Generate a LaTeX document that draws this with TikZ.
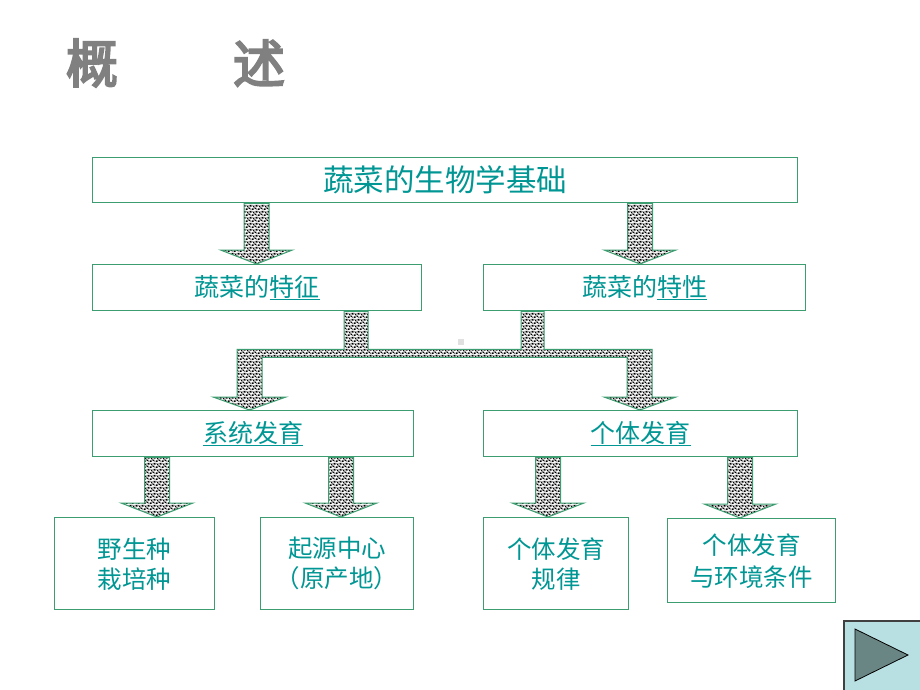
\documentclass[tikz,border=0pt]{standalone}
\usepackage{fontspec}
\newfontfamily\cjk{Noto Sans CJK SC}
\newfontfamily\titlefont[FakeBold=4]{Noto Sans CJK SC}
\usetikzlibrary{patterns,calc}
\definecolor{boxgreen}{RGB}{60,158,112}
\definecolor{tealtext}{RGB}{0,150,148}
\definecolor{titlegray}{RGB}{128,128,128}
\definecolor{btnfill}{RGB}{184,224,226}
\definecolor{btntri}{RGB}{106,134,132}
\newcommand\uln[1]{\setbox0\hbox{#1}\rlap{\rule[-3.8pt]{\wd0}{1.3pt}}\box0}
\pgfdeclarepatterninherentlycolored{confetti}{\pgfpointorigin}{\pgfqpoint{6pt}{6pt}}{\pgfqpoint{6pt}{6pt}}{%
  \pgfsetfillcolor{white}\pgfpathrectangle{\pgfpointorigin}{\pgfqpoint{6pt}{6pt}}\pgfusepath{fill}%
  \pgfsetfillcolor{black}%
  \pgfpathrectangle{\pgfqpoint{0.1pt}{0.1pt}}{\pgfqpoint{1.8pt}{1.8pt}}%
  \pgfpathrectangle{\pgfqpoint{3.1pt}{1.0pt}}{\pgfqpoint{1.8pt}{1.8pt}}%
  \pgfpathrectangle{\pgfqpoint{1.0pt}{3.2pt}}{\pgfqpoint{1.8pt}{1.8pt}}%
  \pgfpathrectangle{\pgfqpoint{4.1pt}{4.0pt}}{\pgfqpoint{1.8pt}{1.8pt}}%
  \pgfusepath{fill}%
  \pgfsetfillcolor{black!55}%
  \pgfpathrectangle{\pgfqpoint{1.9pt}{1.9pt}}{\pgfqpoint{1.3pt}{1.3pt}}%
  \pgfpathrectangle{\pgfqpoint{4.9pt}{0.1pt}}{\pgfqpoint{1.1pt}{1.4pt}}%
  \pgfpathrectangle{\pgfqpoint{0.1pt}{5.0pt}}{\pgfqpoint{1.3pt}{1.0pt}}%
  \pgfpathrectangle{\pgfqpoint{3.0pt}{4.6pt}}{\pgfqpoint{1.1pt}{1.3pt}}%
  \pgfusepath{fill}%
}
\tikzset{
  box/.style={draw=boxgreen, line width=1.4pt, anchor=north west, inner sep=0pt,
    text=tealtext, align=center},
  fatarr/.style={pattern=confetti, draw=boxgreen, line width=1pt, line join=miter},
  mid/.style={font=\cjk\fontsize{25}{30}\selectfont},
  low/.style={font=\cjk\fontsize{24.5}{30}\selectfont},
}
% #1 centre x, #2 source node, #3 target node
\newcommand\fatarrow[3]{%
  \filldraw[fatarr] let \p1=(#2.south), \p2=(#3.north) in
    ({#1pt-12.5pt},\y1) -- ({#1pt+12.5pt},\y1) -- ({#1pt+12.5pt},\y2+14pt)
    -- ({#1pt+36pt},\y2+14pt) -- ({#1pt},\y2) -- ({#1pt-36pt},\y2+14pt)
    -- ({#1pt-12.5pt},\y2+14pt) -- cycle;}
\begin{document}
\begin{tikzpicture}[x=1pt,y=-1pt]
\useasboundingbox[fill=white] (0,0) rectangle (920,690);
% title
\node[font=\titlefont\fontsize{52}{52}\selectfont, text=titlegray] (t1) at (92,63) {概};
\node[font=\titlefont\fontsize{52}{52}\selectfont, text=titlegray] (t2) at (259,63) {述};
% boxes
\node[box, minimum width=705pt, minimum height=45pt, font=\cjk\fontsize{30.5}{34}\selectfont] (top) at (92,157) {蔬菜的生物学基础};
\node[box, mid, minimum width=329pt, minimum height=46pt] (feat) at (92,264) {蔬菜的\uln{特征}};
\node[box, mid, minimum width=322pt, minimum height=46pt] (prop) at (483,264) {蔬菜的\uln{特性}};
\node[box, mid, minimum width=321pt, minimum height=46pt] (sys) at (92,410) {\uln{系统发育}};
\node[box, mid, minimum width=314pt, minimum height=46pt] (ind) at (483,410) {\uln{个体发育}};
\node[box, low, minimum width=160pt, minimum height=92pt] (b1) at (54,517) {野生种\\栽培种};
\node[box, low, minimum width=153pt, minimum height=92pt] (b2) at (260,517) {起源中心\\（原产地）};
\node[box, low, minimum width=145pt, minimum height=92pt] (b3) at (483,517) {个体发育\\规律};
\node[box, font=\cjk\fontsize{24.5}{32}\selectfont, minimum width=168pt, minimum height=84pt] (b4) at (667,518) {个体发育\\与环境条件};
% arrows
\fatarrow{256.5}{top}{feat}
\fatarrow{640}{top}{prop}
\fatarrow{157}{sys}{b1}
\fatarrow{341}{sys}{b2}
\fatarrow{548}{ind}{b3}
\fatarrow{740}{ind}{b4}
% joining connector
\filldraw[fatarr] let \p1=(feat.south), \p2=(sys.north) in
 (237pt,\y1-38pt) -- (344pt,\y1-38pt) -- (344pt,\y1) -- (368pt,\y1) -- (368pt,\y1-38pt)
 -- (521pt,\y1-38pt) -- (521pt,\y1) -- (544pt,\y1) -- (544pt,\y1-38pt) -- (652pt,\y1-38pt)
 -- (652pt,\y2+13pt) -- (676pt,\y2+13pt) -- (640pt,\y2) -- (604pt,\y2+13pt) -- (627pt,\y2+13pt)
 -- (627pt,\y1-46pt) -- (262pt,\y1-46pt) -- (262pt,\y2+13pt) -- (286pt,\y2+13pt) -- (249.5pt,\y2)
 -- (213pt,\y2+13pt) -- (237pt,\y2+13pt) -- cycle;
% small grey mark
\fill[black!12] (457.5,339) rectangle (463.5,345);
% play button
\node[draw=black!75, fill=btnfill, line width=1.5pt, minimum width=78pt, minimum height=71pt, anchor=north west, inner sep=0pt] (btn) at (843,620) {};
\filldraw[fill=btntri, draw=black, line width=0.8pt] (855,629) -- (908,655) -- (855,681) -- cycle;
\end{tikzpicture}
\end{document}
